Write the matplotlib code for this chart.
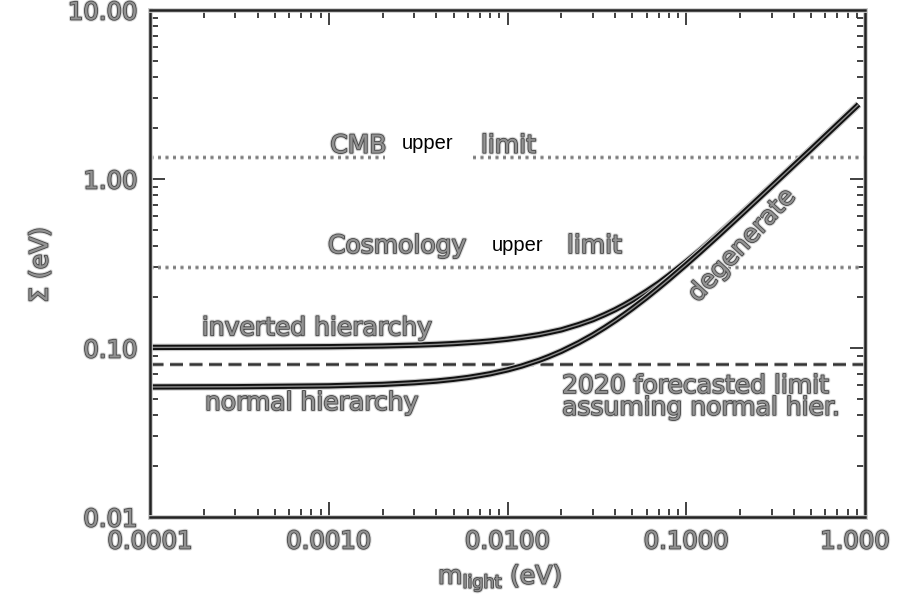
import matplotlib
matplotlib.use('Agg')
import matplotlib.pyplot as plt
import matplotlib.patheffects as pe
from matplotlib.transforms import ScaledTranslation
from matplotlib.ticker import LogLocator, NullFormatter, FixedLocator

# lightest neutrino mass (eV) and summed masses
m_light = [1e-4, 3e-4, 1e-3, 2e-3, 3e-3, 4e-3, 5e-3, 6e-3, 7e-3, 8e-3,
           0.01, 0.012, 0.015, 0.017, 0.02, 0.025, 0.03, 0.035, 0.04, 0.045,
           0.05, 0.06, 0.07, 0.08, 0.1, 0.12, 0.15, 0.2, 0.25, 0.3,
           0.4, 0.5, 0.7, 0.92]
sum_normal = [0.0588, 0.0590, 0.0597, 0.0609, 0.0623, 0.0637, 0.0653, 0.0669,
              0.0687, 0.0704, 0.0742, 0.0782, 0.0845, 0.0889, 0.0956, 0.1074,
              0.1195, 0.1321, 0.145, 0.1581, 0.1715, 0.1987, 0.2266, 0.2548,
              0.312, 0.370, 0.458, 0.606, 0.755, 0.904, 1.203, 1.50, 2.10, 2.76]
sum_inverted = [0.1008, 0.1011, 0.1018, 0.1028, 0.1039, 0.105, 0.1062, 0.1075,
                0.1087, 0.110, 0.1127, 0.1156, 0.120, 0.1233, 0.128, 0.1375,
                0.147, 0.1577, 0.1685, 0.1801, 0.192, 0.2167, 0.242, 0.2691,
                0.324, 0.380, 0.467, 0.613, 0.760, 0.908, 1.206, 1.505, 2.104, 2.763]

cmb_limit = 1.35
cosmo_limit = 0.30
forecast_limit = 0.08

xticks = [1e-4, 1e-3, 1e-2, 1e-1, 1.0]
xticklabels = ['0.0001', '0.0010', '0.0100', '0.1000', '1.000']
yticks = [0.01, 0.1, 1.0, 10.0]
yticklabels = ['0.01', '0.10', '1.00', '10.00']

# IDL-ish hollow look
hollow = [pe.Stroke(linewidth=2.8, foreground='#dadada'),
          pe.Stroke(linewidth=1.3, foreground='#4a4a4a'),
          pe.Normal()]
TXT = dict(color='#929292', fontsize=18, family='DejaVu Sans', path_effects=hollow)
curve_fx = [pe.Stroke(linewidth=5.4, foreground='#c8c8c8'),
            pe.Stroke(linewidth=3.8, foreground='#111111'),
            pe.Normal()]
halo = [pe.Stroke(linewidth=3.5, foreground='#d4d4d4'), pe.Normal()]

fig = plt.figure(figsize=(8.98, 6.0), dpi=100)
fig.patch.set_facecolor('white')
ax = fig.add_axes([150 / 898, 83 / 600, 715 / 898, 507 / 600])
ax.set_xscale('log')
ax.set_yscale('log')
ax.set_xlim(1e-4, 1.0)
ax.set_ylim(0.01, 10.0)

ax.axhline(cmb_limit, color='#7a7a7a', lw=1.8, dashes=(1.2, 1.8), path_effects=halo)
ax.axhline(cosmo_limit, color='#7a7a7a', lw=1.8, dashes=(1.2, 1.8), path_effects=halo)
ax.axhline(forecast_limit, color='#333333', lw=1.8, dashes=(5.2, 2.6), path_effects=halo)

ax.plot(m_light, sum_inverted, color='#8a8a8a', lw=1.0, path_effects=curve_fx,
        solid_capstyle='butt')
ax.plot(m_light, sum_normal, color='#8a8a8a', lw=1.0, path_effects=curve_fx,
        solid_capstyle='butt')

# labels
ax.text(1.02e-3, 1.43, 'CMB', ha='left', va='baseline', **TXT)
ax.text(2.55e-3, 1.50, 'upper', ha='left', va='baseline', color='black',
        fontsize=14.5, family='Liberation Sans', zorder=2.5,
        bbox=dict(facecolor='white', edgecolor='none', pad=12))
ax.text(7.1e-3, 1.43, 'limit', ha='left', va='baseline', **TXT)
ax.text(9.9e-4, 0.365, 'Cosmology', ha='left', va='baseline', **TXT)
ax.text(8.2e-3, 0.375, 'upper', ha='left', va='baseline', color='black',
        fontsize=14.5, family='Liberation Sans')
ax.text(0.0215, 0.365, 'limit', ha='left', va='baseline', **TXT)
ax.text(1.95e-4, 0.119, 'inverted hierarchy', ha='left', va='baseline', **TXT)
ax.text(2.03e-4, 0.043, 'normal hierarchy', ha='left', va='baseline', **TXT)
ax.text(0.0202, 0.0542, '2020 forecasted limit', ha='left', va='baseline', **TXT)
ax.text(0.0202, 0.0402, 'assuming normal hier.', ha='left', va='baseline', **TXT)
ax.text(0.205, 0.405, 'degenerate', ha='center', va='center', rotation=47,
        rotation_mode='anchor', **TXT)

# axes styling
for s in ax.spines.values():
    s.set_linewidth(1.8)
    s.set_color('#222222')
    s.set_path_effects([pe.Stroke(linewidth=3.4, foreground='#cccccc'), pe.Normal()])

ax.xaxis.set_major_locator(FixedLocator(xticks))
ax.yaxis.set_major_locator(FixedLocator(yticks))
ax.xaxis.set_minor_locator(LogLocator(base=10, subs=range(2, 10), numticks=20))
ax.yaxis.set_minor_locator(LogLocator(base=10, subs=range(2, 10), numticks=20))
ax.xaxis.set_minor_formatter(NullFormatter())
ax.yaxis.set_minor_formatter(NullFormatter())
ax.set_xticklabels(xticklabels)
ax.set_yticklabels(yticklabels)
ax.tick_params(which='both', direction='in', top=True, right=True,
               color='#333333', width=1.3)
ax.tick_params(which='major', length=11, pad=9)
ax.tick_params(which='minor', length=6)
for lab in ax.get_xticklabels() + ax.get_yticklabels():
    lab.set_fontsize(17.5)
    lab.set_color('#929292')
    lab.set_path_effects(hollow)
# last x label shifted left ~10px so it stays on the canvas
last = ax.get_xticklabels()[-1]
last.set_transform(last.get_transform() + ScaledTranslation(-0.1, 0, fig.dpi_scale_trans))

fig.text(40 / 898, 1 - 265 / 600, r'$\Sigma$ (eV)', rotation=90, ha='center',
         va='center', **TXT)
fig.text(500 / 898, 1 - 578 / 600, r'm$_{\mathregular{light}}$ (eV)', ha='center',
         va='center', **TXT)

fig.savefig('out.png', dpi=100)
